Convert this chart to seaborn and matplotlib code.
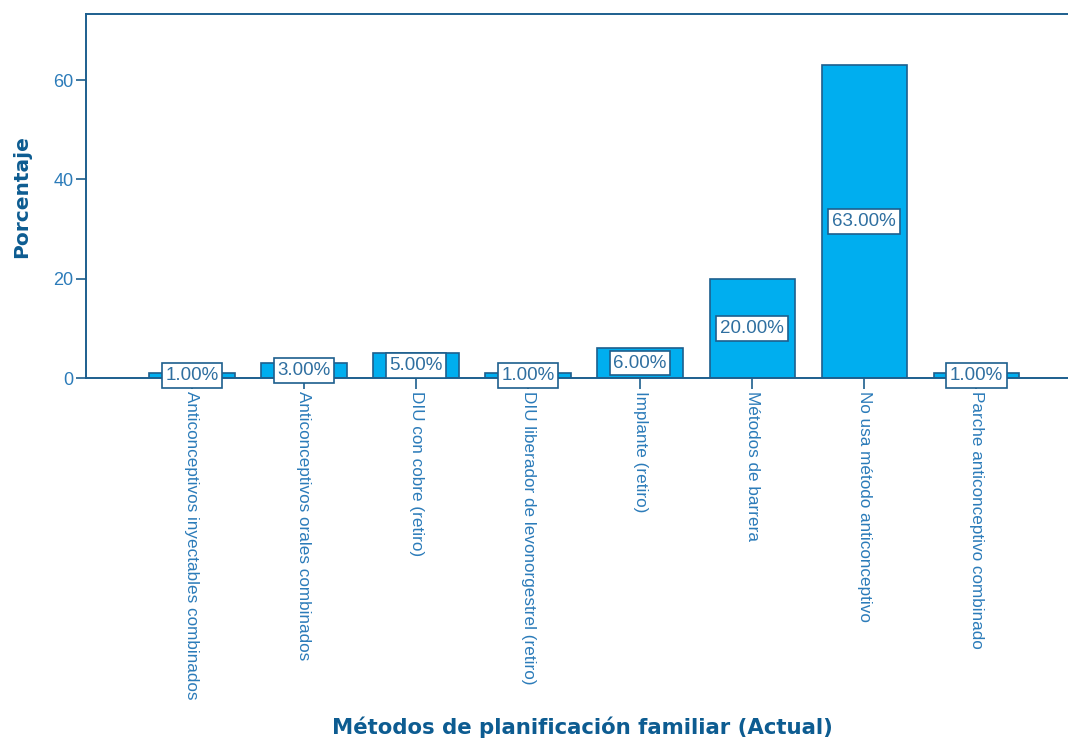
import matplotlib
matplotlib.use("Agg")
from matplotlib import pyplot as plt
import seaborn as sns
import pandas as pd

metodos = ["Anticonceptivos inyectables combinados",
           "Anticonceptivos orales combinados",
           "DIU con cobre (retiro)",
           "DIU liberador de levonorgestrel (retiro)",
           "Implante (retiro)",
           "Métodos de barrera",
           "No usa método anticonceptivo",
           "Parche anticonceptivo combinado"]
porcentaje = [1, 3, 5, 1, 6, 20, 63, 1]
yticks = [0, 20, 40, 60]

df = pd.DataFrame({"metodo": metodos, "pct": porcentaje})

sns.set_style("ticks")
plt.rcParams['font.family'] = ['Liberation Sans', 'DejaVu Sans']

tick_c = "#2b7bb9"
title_c = "#0d5c91"
edge_c = "#1d5f8e"

fig = plt.figure(figsize=(10.68, 7.40), dpi=100)
ax = fig.add_axes([0.0805, 0.489, 0.9195, 0.492])

sns.barplot(data=df, x="metodo", y="pct", color="#00aeef", saturation=1,
            width=0.76, edgecolor=edge_c, linewidth=1.2, ax=ax)

ax.bar_label(ax.containers[0], labels=[f"{v:.2f}%" for v in porcentaje],
             label_type="center", fontsize=13.5, color="#2f6fa0",
             bbox=dict(boxstyle="square,pad=0.2", fc="white", ec=edge_c, lw=1.2))

ax.set_xlim(-0.946, 7.82)
ax.set_ylim(0, 73.3)
ax.set_yticks(yticks)
ax.tick_params(axis="y", colors=edge_c, labelsize=13, length=7, width=1.2,
               labelcolor=tick_c, pad=2)
ax.tick_params(axis="x", colors=edge_c, length=8, width=1.2, labelsize=12.3,
               labelcolor=tick_c, pad=1)
plt.setp(ax.get_xticklabels(), rotation=270, ha="center", va="top")

for s in ["left", "top", "bottom"]:
    ax.spines[s].set_color(edge_c)
    ax.spines[s].set_linewidth(1.4)
ax.spines["right"].set_visible(False)

ax.set_ylabel("Porcentaje", fontsize=14.5, fontweight="bold", color=title_c,
              family="DejaVu Sans")
ax.set_xlabel("Métodos de planificación familiar (Actual)", fontsize=15.3,
              fontweight="bold", color=title_c, family="DejaVu Sans")
ax.yaxis.set_label_coords(-0.056, 0.5)
ax.xaxis.set_label_coords(0.506, -0.93)

fig.savefig("out.png", dpi=100)
